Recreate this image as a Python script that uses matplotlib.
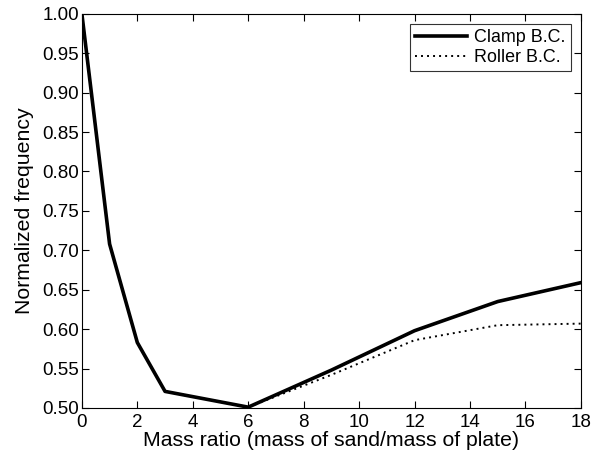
import matplotlib
matplotlib.use("Agg")
import matplotlib.pyplot as plt

plt.rcParams["font.family"] = ["Liberation Sans", "DejaVu Sans"]

# data
mass_ratio = [0, 1, 2, 3, 6, 9, 12, 15, 18]
clamp_freq = [1.0, 0.708, 0.583, 0.521, 0.501, 0.548, 0.598, 0.635, 0.659]
roller_freq = [1.0, 0.708, 0.583, 0.521, 0.501, 0.542, 0.586, 0.605, 0.607]

fig = plt.figure(figsize=(6.02, 4.62), dpi=100)
ax = fig.add_axes([0.136, 0.117, 0.829, 0.853])

ax.plot(mass_ratio, clamp_freq, color="black", lw=2.6, label="Clamp B.C.")
ax.plot(mass_ratio, roller_freq, color="black", lw=1.4, ls=(0, (1, 2.1)), label="Roller B.C.")

ax.set_xlim(0, 18)
ax.set_ylim(0.5, 1.0)
ax.set_xticks(range(0, 19, 2))
ax.set_yticks([0.5 + 0.05 * i for i in range(11)])
ax.set_yticklabels([f"{0.5 + 0.05 * i:.2f}" for i in range(11)])
ax.tick_params(direction="in", top=True, right=True, length=5, labelsize=13.5, width=0.8)
ax.tick_params(axis="y", pad=2)
ax.tick_params(axis="x", pad=4)
for s in ax.spines.values():
    s.set_linewidth(0.8)

ax.set_xlabel("Mass ratio (mass of sand/mass of plate)", fontsize=15.3, labelpad=0)
ax.set_ylabel("Normalized frequency", fontsize=15.3, labelpad=6)

leg = ax.legend(loc="upper right", fontsize=12.9, frameon=True, fancybox=False,
                edgecolor="black", handlelength=2.9, borderpad=0.3, labelspacing=0.15,
                handletextpad=0.4, borderaxespad=0.55)
leg.get_frame().set_linewidth(0.8)

fig.savefig("out.png", dpi=100)
